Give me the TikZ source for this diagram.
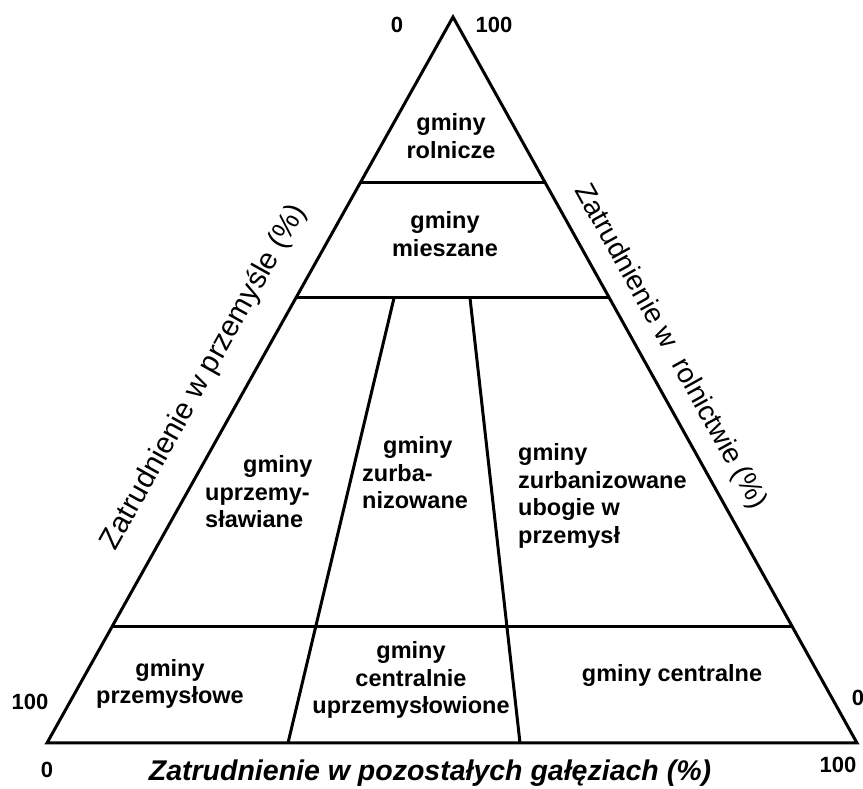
\documentclass[tikz,border=0pt]{standalone}
\usepackage{fontspec}
\setmainfont{Liberation Sans}
\tikzset{
  region/.style={font=\fontsize{23.5}{27.5}\selectfont\bfseries, align=center, inner sep=0pt},
  tick/.style={font=\fontsize{22}{26}\selectfont\bfseries, inner sep=0pt},
  axis/.style={font=\fontsize{28}{32}\selectfont, inner sep=0pt}
}
\begin{document}
\begin{tikzpicture}[x=1pt, y=1pt]
    \useasboundingbox (0,0) rectangle (863,789);
    \coordinate (top) at (453,772);
    \coordinate (bl) at (47,46);
    \coordinate (br) at (857,46);
    \draw[line width=3pt,line join=miter] (bl) -- (top) -- (br) -- cycle;
    \draw[line width=3pt] (360,606) -- (545,606);
    \draw[line width=3pt] (296,491) -- (609,491);
    \draw[line width=3pt] (112,162) -- (792,162);
    \draw[line width=3pt] (394,491) -- (288,46);
    \draw[line width=3pt] (470,491) -- (520,46);
    \node[region] (rolnicze) at (451,653) {gminy\\rolnicze};
    \node[region] (mieszane) at (445,555) {gminy\\mieszane};
    \node[region, align=left, anchor=west] (uprzem) at (205,297) {\hspace*{38pt}gminy\\uprzemy-\\sławiane};
    \node[region, align=left, anchor=west] (zurba) at (362,316) {\hspace*{21pt}gminy\\zurba-\\nizowane};
    \node[region, align=left, anchor=west] (ubogie) at (518,293) {gminy\\zurbanizowane\\ubogie w\\przemysł};
    \node[region] (przemyslowe) at (170,105) {gminy\\przemysłowe};
    \node[region] (centrUprz) at (411,109) {gminy\\centralnie\\uprzemysłowione};
    \node[region] (centralne) at (672,114) {gminy centralne};
    \node[tick] (t0) at (397,764) {0};
    \node[tick] (t100) at (494,764) {100};
    \node[tick] (l100) at (30,87) {100};
    \node[tick] (l0) at (47,19) {0};
    \node[tick] (r0) at (858,91) {0};
    \node[tick] (r100) at (838,24) {100};
    \node[axis, font=\fontsize{29.5}{33}\selectfont, rotate=60.8] (przemysl) at (204,412) {Zatrudnienie w przemyśle (\%)};
    \node[axis, rotate=-60.9] (rolnictwo) at (670,442) {Zatrudnienie w \ rolnictwie (\%)};
    \node[font=\fontsize{28.5}{31}\selectfont\bfseries\itshape, inner sep=0pt] (pozostale) at (430,16) {Zatrudnienie w pozostałych gałęziach (\%)};
\end{tikzpicture}
\end{document}
